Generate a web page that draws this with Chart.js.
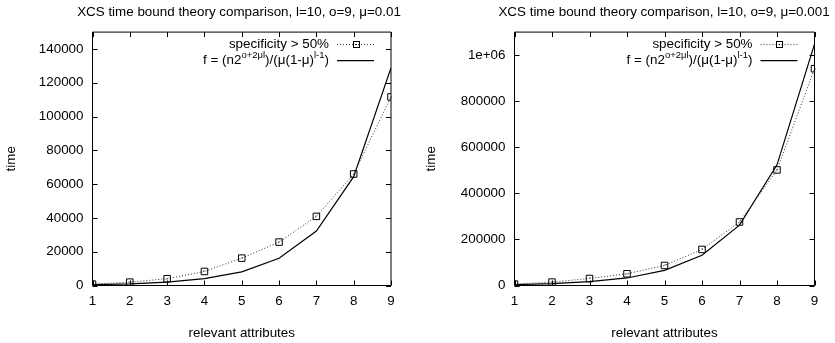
<!DOCTYPE html>
<html><head><meta charset="utf-8">
<script src="https://cdn.jsdelivr.net/npm/chart.js@4"></script>
<style>
body{margin:0;background:#fff;width:835px;height:343px;overflow:hidden;position:relative}
canvas{position:absolute;top:0}
</style></head><body>
<canvas id="c1" width="478" height="343" style="left:0"></canvas>
<canvas id="c2" width="488" height="343" style="left:420px"></canvas>
<script>
// ---- data ----
const attributes = [1, 2, 3, 4, 5, 6, 7, 8, 9];
const specificityA = [800, 2000, 4000, 8300, 16200, 25700, 40900, 66000, 111600];
const theoryA = [503, 1006, 2012, 4025, 8050, 16100, 32200, 64400, 128800];
const specificityB = [6000, 14800, 30400, 50900, 87000, 156500, 275600, 501700, 940900];
const theoryB = [4100, 8200, 16400, 32700, 65500, 131000, 262000, 523800, 1047600];
const xTickValues = [1, 2, 3, 4, 5, 6, 7, 8, 9];
const yTickValuesA = [0, 20000, 40000, 60000, 80000, 100000, 120000, 140000];
const yTickLabelsA = ['0', '20000', '40000', '60000', '80000', '100000', '120000', '140000'];
const yTickValuesB = [0, 200000, 400000, 600000, 800000, 1000000];
const yTickLabelsB = ['0', '200000', '400000', '600000', '800000', '1e+06'];
const titleA = 'XCS time bound theory comparison, l=10, o=9, \u03bc=0.01';
const titleB = 'XCS time bound theory comparison, l=10, o=9, \u03bc=0.001';
const legendSpec = 'specificity > 50%';
const legendTheory = [['f = (n2', false], ['o+2\u03bcl', true], [')/(\u03bc(1-\u03bc)', false], ['l-1', true], [')', false]];
const xTitle = 'relevant attributes';
const yTitle = 'time';

const FONT = '"Liberation Sans", Arial, Helvetica, sans-serif';
const FS = 13.4;
const TFS = 13.4;

const framePlugin = {
  id: 'frame',
  afterDatasetsDraw(chart) {
    const ctx = chart.ctx, a = chart.chartArea;
    const xs = chart.scales.x, ys = chart.scales.y;
    ctx.save();
    ctx.strokeStyle = '#000';
    ctx.lineWidth = 1;
    ctx.beginPath();
    ctx.rect(a.left, a.top, a.right - a.left, a.bottom - a.top);
    ctx.stroke();
    const L = 5;
    ctx.beginPath();
    xs.ticks.forEach(t => {
      const px = Math.round(xs.getPixelForValue(t.value)) + 0.5;
      ctx.moveTo(px, a.bottom); ctx.lineTo(px, a.bottom - L);
      ctx.moveTo(px, a.top); ctx.lineTo(px, a.top + L);
    });
    ys.ticks.forEach(t => {
      const py = Math.round(ys.getPixelForValue(t.value)) + 0.5;
      ctx.moveTo(a.left, py); ctx.lineTo(a.left + L, py);
      ctx.moveTo(a.right, py); ctx.lineTo(a.right - L, py);
    });
    ctx.stroke();
    // centre dots of the box markers
    const meta = chart.getDatasetMeta(0);
    ctx.fillStyle = '#000';
    meta.data.forEach(p => { ctx.fillRect(Math.round(p.x) - 0.5, Math.round(p.y) - 0.5, 1, 1); });
    // legend
    const tr = a.right - 62;
    const y1 = a.top + 12, y2 = a.top + 28;
    ctx.textBaseline = 'middle';
    ctx.textAlign = 'right';
    ctx.font = FS + 'px ' + FONT;
    ctx.fillText(legendSpec, tr, y1);
    ctx.textAlign = 'left';
    const SUP = 9.5;
    let total = 0;
    legendTheory.forEach(([t, sup]) => {
      ctx.font = (sup ? SUP : FS) + 'px ' + FONT;
      total += ctx.measureText(t).width;
    });
    let x = tr - total;
    legendTheory.forEach(([t, sup]) => {
      ctx.font = (sup ? SUP : FS) + 'px ' + FONT;
      ctx.fillText(t, x, sup ? y2 - 5 : y2);
      x += ctx.measureText(t).width;
    });
    const s0 = a.right - 54, s1 = a.right - 17;
    ctx.beginPath();
    ctx.setLineDash([1, 2]);
    ctx.strokeStyle = '#333';
    ctx.moveTo(s0, y1 + 0.5); ctx.lineTo(s1, y1 + 0.5);
    ctx.stroke();
    ctx.setLineDash([]);
    ctx.strokeStyle = '#000';
    const mx = Math.round((s0 + s1) / 2) + 0.5;
    ctx.strokeRect(mx - 3, Math.round(y1) - 3 + 0.5, 6, 6);
    ctx.fillRect(mx - 0.5, Math.round(y1), 1, 1);
    ctx.beginPath();
    ctx.lineWidth = 1.2;
    ctx.moveTo(s0, y2 + 0.5); ctx.lineTo(s1, y2 + 0.5);
    ctx.stroke();
    ctx.restore();
  }
};

function makeChart(id, title, spec, theory, yVals, yLabels, yMax, leftW, rightW) {
  const toPts = arr => attributes.map((x, i) => ({x: x, y: arr[i]}));
  return new Chart(document.getElementById(id), {
    type: 'line',
    data: {
      datasets: [
        {
          label: legendSpec,
          data: toPts(spec),
          yAxisID: 'y',
          borderColor: '#333',
          borderWidth: 1,
          borderDash: [1, 2],
          pointStyle: 'rect',
          pointRadius: 4.6,
          pointBorderColor: '#000',
          pointBackgroundColor: 'rgba(0,0,0,0)',
          pointBorderWidth: 1,
          tension: 0,
          fill: false
        },
        {
          label: 'f = (n2^(o+2\u03bcl))/(\u03bc(1-\u03bc)^(l-1))',
          data: toPts(theory),
          yAxisID: 'y',
          borderColor: '#000',
          borderWidth: 1.2,
          pointRadius: 0,
          tension: 0,
          fill: false
        }
      ]
    },
    options: {
      responsive: false,
      animation: false,
      layout: {padding: 0},
      plugins: {
        legend: {display: false},
        tooltip: {enabled: false},
        title: {
          display: true,
          text: title,
          fullSize: true,
          color: '#000',
          font: {family: FONT, size: TFS, weight: 'normal', lineHeight: 1.2},
          padding: {top: 4, bottom: 12}
        }
      },
      scales: {
        x: {
          type: 'linear',
          min: 1, max: 9,
          grid: {display: false, tickLength: 0},
          border: {display: false},
          afterBuildTicks: s => { s.ticks = xTickValues.map(v => ({value: v})); },
          afterFit: s => { s.height = 57.5; },
          ticks: {color: '#000', font: {family: FONT, size: FS}, padding: 8, maxRotation: 0,
                  callback: v => String(v)},
          title: {display: true, text: xTitle, color: '#000', font: {family: FONT, size: FS},
                  padding: {top: 0, bottom: 2}}
        },
        y: {
          type: 'linear',
          position: 'left',
          min: 0, max: yMax,
          grid: {display: false, tickLength: 0},
          border: {display: false},
          afterBuildTicks: s => { s.ticks = yVals.map(v => ({value: v})); },
          afterFit: s => { s.width = leftW; },
          ticks: {color: '#000', font: {family: FONT, size: FS}, padding: 9,
                  callback: (v, i) => yLabels[yVals.indexOf(v)]},
          title: {display: true, text: yTitle, color: '#000', font: {family: FONT, size: FS},
                  padding: {top: 3, bottom: 3}}
        },
        y2: {
          type: 'linear',
          position: 'right',
          min: 0, max: yMax,
          grid: {display: false, drawTicks: false},
          border: {display: false},
          ticks: {display: false},
          afterFit: s => { s.width = rightW; }
        }
      }
    },
    plugins: [framePlugin]
  });
}

makeChart('c1', titleA, specificityA, theoryA, yTickValuesA, yTickLabelsA, 150000, 92.5, 87);
makeChart('c2', titleB, specificityB, theoryB, yTickValuesB, yTickLabelsB, 1100000, 94.5, 93.5);
</script>
</body></html>
